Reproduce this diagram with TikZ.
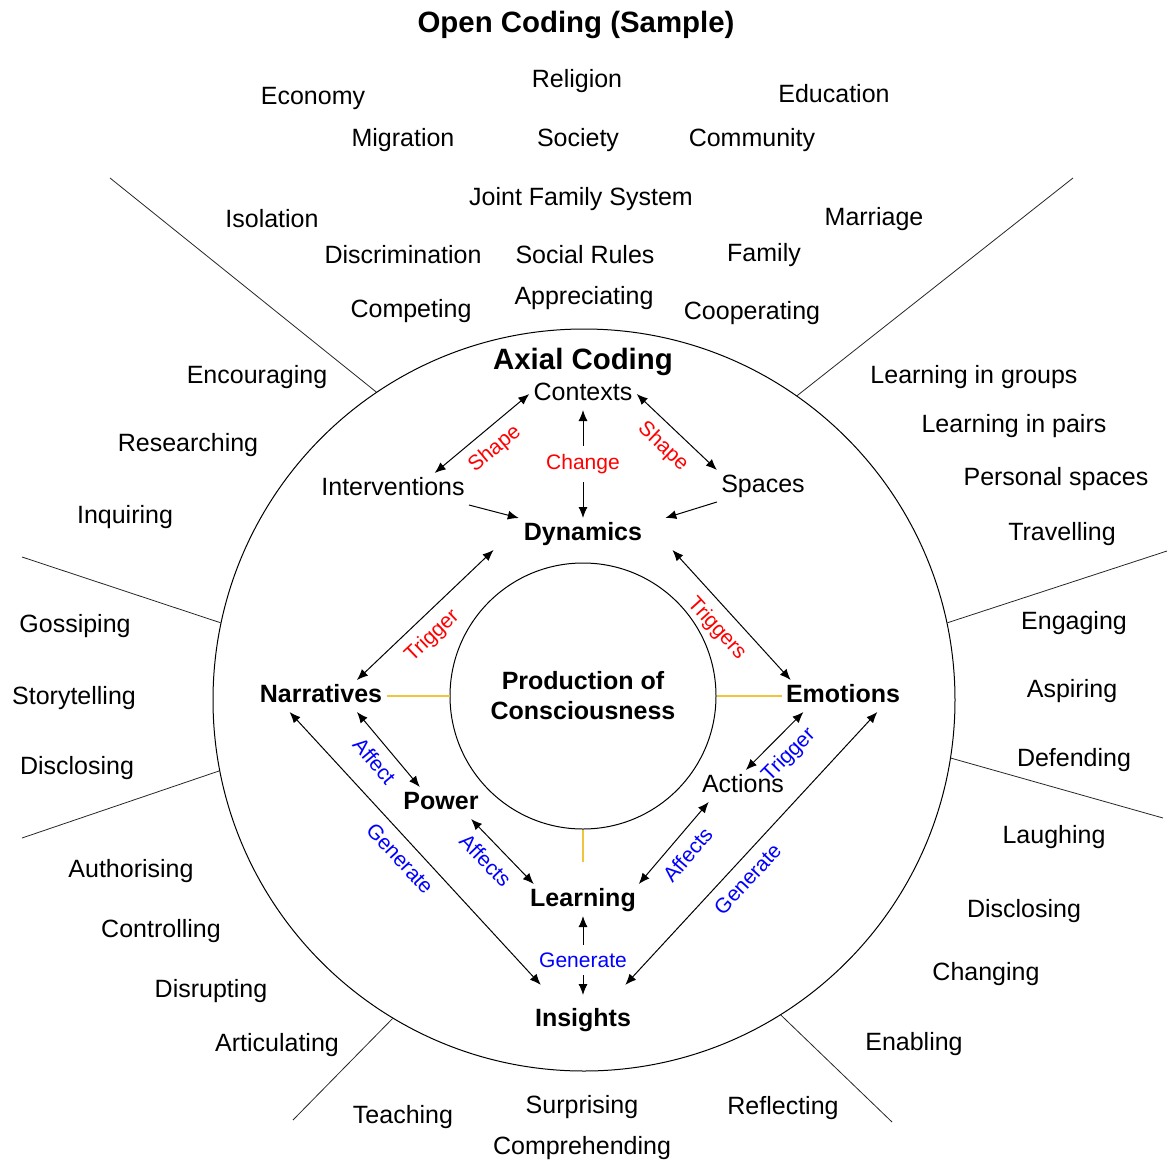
\documentclass[tikz,border=0pt]{standalone}
\usepackage{fontspec}
\setmainfont{Liberation Sans}
\usetikzlibrary{
  arrows.meta,
  positioning,
}
\tikzset{
  >={Latex[width=4.5pt,length=5.5pt]},
}
\definecolor{gold}{RGB}{240,196,60}

\begin{document}
\begin{tikzpicture}[
      x=0.5pt, y=-0.5pt,
      every node/.style={
        align=center,
        font=\fontsize{12.5}{15}\selectfont,
        yshift=-1.5pt,
      },
      concept/.style={
        inner sep=2pt,
        text height=9pt,
        text depth=2.6pt, % same box for every word
      },
      core/.style={concept,
        font=\fontsize{12.5}{15}\selectfont\bfseries,
      },
      heading/.style={
        font=\fontsize{14.7}{17}\selectfont\bfseries,
      },
      rel/.style={
        yshift=1.5pt, % labels stay on their line
        font=\fontsize{10.5}{12}\selectfont,
        inner sep=5pt,
      },
      cause/.style={rel, text=red},
      effect/.style={rel, text=blue},
      gap/.style={fill=white, inner xsep=1pt, inner ysep=4pt},
      link/.style={<->, line width=0.5pt},
      ray/.style={line width=0.4pt, draw=black!85},
      glue/.style={draw=gold, line width=0.6pt},
      ]
      \useasboundingbox (0,0) rectangle (1168,1162);

      \node[heading] (title) at (576,22) {Open Coding (Sample)};

      % open codes
      \node (economy) at (313,95) {Economy};
      \node (religion) at (577,78) {Religion};
      \node (education) at (834,91) {Education};
      \node (migration) at (403,137) {Migration};
      \node (society) at (578,137) {Society};
      \node (community) at (752,137) {Community};
      \node (joint) at (581,196) {Joint Family System};
      \node (isolation) at (272,216) {Isolation};
      \node (marriage) at (874,216) {Marriage};
      \node (discrim) at (403,252) {Discrimination};
      \node (rules) at (585,252) {Social Rules};
      \node (family) at (764,252) {Family};
      \node (competing) at (411,308) {Competing};
      \node (appreciating) at (584,295) {Appreciating};
      \node (cooperating) at (752,310) {Cooperating};
      \node (encouraging) at (257,374) {Encouraging};
      \node (researching) at (188,442) {Researching};
      \node (inquiring) at (125,514) {Inquiring};
      \node (groups) at (974,374) {Learning in groups};
      \node (pairs) at (1014,423) {Learning in pairs};
      \node (personal) at (1056,476) {Personal spaces};
      \node (travelling) at (1062,531) {Travelling};
      \node (gossiping) at (75,623) {Gossiping};
      \node (storytelling) at (74,695) {Storytelling};
      \node (disclosing-l) at (77,765) {Disclosing};
      \node (engaging) at (1074,620) {Engaging};
      \node (aspiring) at (1072,688) {Aspiring};
      \node (defending) at (1074,757) {Defending};
      \node (authorising) at (131,868) {Authorising};
      \node (controlling) at (161,928) {Controlling};
      \node (disrupting) at (211,988) {Disrupting};
      \node (articulating) at (277,1042) {Articulating};
      \node (laughing) at (1054,834) {Laughing};
      \node (disclosing-r) at (1024,908) {Disclosing};
      \node (changing) at (986,971) {Changing};
      \node (enabling) at (914,1041) {Enabling};
      \node (teaching) at (403,1114) {Teaching};
      \node (surprising) at (582,1104) {Surprising};
      \node (comprehending) at (582,1145) {Comprehending};
      \node (reflecting) at (783,1105) {Reflecting};

      % rings (every node is shifted down, so the big one sits 3 units higher)
      \node[draw, circle, minimum size=371pt, inner sep=0pt, line width=0.5pt] (ring) at (584,697) {};
      \node[draw, circle, minimum size=133pt, inner sep=0pt, line width=0.5pt,
        font=\fontsize{12.5}{15}\selectfont\bfseries] (poc) at (583,693) {Production of\\Consciousness};

      \coordinate (ray-ul) at (110,175);
      \coordinate (ray-ur) at (1073,175);
      \coordinate (ray-lu) at (22,554);
      \coordinate (ray-ll) at (22,835);
      \coordinate (ray-ru) at (1167,548);
      \coordinate (ray-rl) at (1163,815);
      \coordinate (ray-bl) at (293,1117);
      \coordinate (ray-br) at (892,1119);
      \draw[ray] (ring.124) -- (ray-ul);
      \draw[ray] (ring.55) -- (ray-ur);
      \draw[ray] (ring.168) -- (ray-lu);
      \draw[ray] (ring.-169) -- (ray-ll);
      \draw[ray] (ring.12) -- (ray-ru);
      \draw[ray] (ring.-9) -- (ray-rl);
      \draw[ray] (ring.-121) -- (ray-bl);
      \draw[ray] (ring.-58) -- (ray-br);

      % axial codes
      \node[heading] (axial) at (583,359) {Axial Coding};
      \node[concept] (ctx) at (583,391) {Contexts};
      \node[concept] (intv) at (393,486) {Interventions};
      \node[concept] (spc) at (763,483) {Spaces};
      \node[core, inner xsep=15pt] (dyn) at (583,531) {Dynamics};
      \node[core] (nar) at (321,693) {Narratives};
      \node[core] (emo) at (843,693) {Emotions};
      \node[core] (pow) at (441,800) {Power};
      \node[concept] (act) at (743,783) {Actions};
      \node[core] (lrn) at (583,897) {Learning};
      \node[core] (ins) at (583,1017) {Insights};

      \draw[link] (intv.21) -- node[cause, sloped, below] {Shape} (ctx.west);
      \draw[link] (ctx.east) -- node[cause, sloped, below] {Shape} (spc.north west);
      \draw[link] (ctx.south) -- node[cause, gap] {Change} (dyn.north);
      \draw[->, line width=0.5pt] (intv.south east) -- (dyn.166);
      \draw[->, line width=0.5pt] (spc.south west) -- (dyn.11);

      \draw[link] (nar.24) -- node[cause, sloped, below, pos=0.45] {Trigger} (dyn.south west);
      \draw[link] (dyn.south east) -- node[cause, sloped, below, pos=0.5] {Triggers} (emo.163);
      \draw[link] (nar.-24) -- node[effect, sloped, below] {Affect} (pow.143);
      \draw[link] (pow.-28) -- node[effect, sloped, below, pos=0.44] {Affects} (lrn.162);
      \draw[link] (lrn.16) -- node[effect, sloped, below] {Affects} (act.-155);
      \draw[link] (act.80) -- node[effect, sloped, below] {Trigger} (emo.-158);
      \draw[link, shorten >=13pt] (nar.-153) -- node[effect, sloped, below, pos=0.46] {Generate} (ins.147);
      \draw[link, shorten <=13pt] (ins.33) -- node[effect, sloped, below, pos=0.47] {Generate} (emo.-25);
      \draw[link, shorten >=4.5pt] (lrn.south) -- node[effect, gap] {Generate} (ins.north);

      \draw[glue] (nar.east) -- (poc.west);
      \draw[glue] (poc.east) -- (emo.west);
      \draw[glue, shorten >=11pt] (poc.south) -- (lrn.north);
    \end{tikzpicture}
\end{document}
